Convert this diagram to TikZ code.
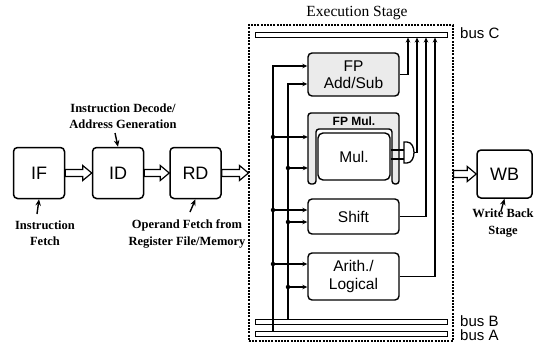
\documentclass[tikz,border=0pt]{standalone}
\usepackage{fontspec}
\setmainfont{Liberation Serif}
\newfontfamily\arialf{Liberation Sans}
\usetikzlibrary{arrows.meta,calc}
\begin{document}
\begin{tikzpicture}[x=1pt,y=-1pt,
  stagebox/.style={draw, line width=1.5pt, rounded corners=4pt, minimum width=51pt, minimum height=51pt, inner sep=0pt, font=\arialf\fontsize{18}{20}\selectfont},
  unitbox/.style={draw, line width=1.4pt, rounded corners=4pt, inner sep=0pt, align=center, font=\arialf\fontsize{15.5}{17.5}\selectfont},
  note/.style={align=center, font=\bfseries\fontsize{12.5}{16.5}\selectfont},
  busbar/.style={draw, line width=1pt, minimum width=192pt, minimum height=5pt, inner sep=0pt},
  buslabel/.style={anchor=west, inner sep=0pt, font=\arialf\fontsize{15}{17}\selectfont},
  ptr/.style={line width=1.4pt, -{Stealth[length=6.5pt,width=5.5pt]}},
  sig/.style={line width=1.3pt, -{Stealth[length=5pt,width=4.5pt]}},
  wire/.style={line width=1.3pt},
  jdot/.style={circle, fill, inner sep=0pt, minimum size=4.5pt},
  hollow/.style={draw, fill=white, line width=1.2pt,
    to path={let \p1=(\tikztostart), \p2=(\tikztotarget) in
      (\x1,\y1+3.5pt) -- (\x2-9pt,\y1+3.5pt) -- (\x2-9pt,\y1+7.5pt) -- (\x2,\y1)
      -- (\x2-9pt,\y1-7.5pt) -- (\x2-9pt,\y1-3.5pt) -- (\x1,\y1-3.5pt) -- cycle}}
]
\useasboundingbox (0,0) rectangle (538,343);

% pipeline stages
\node[stagebox] (IF) at (39,173) {IF};
\node[stagebox] (ID) at (118,173) {ID};
\node[stagebox] (RD) at (195.5,173) {RD};
\node[stagebox, minimum width=55pt, minimum height=48pt] (WB) at (504.5,174) {WB};

% execution stage frame
\node[draw, line width=1.1pt, dash pattern=on 2pt off 1.2pt, minimum width=204pt, minimum height=316pt, inner sep=0pt] (exe) at (351,183) {};
\node[font=\fontsize{15.5}{17}\selectfont] (exet) at (357,13) {Execution Stage};

% hollow arrows
\draw[hollow] (IF.east) to (ID.west);
\draw[hollow] (ID.east) to (RD.west);
\draw[hollow] (RD.east) to (exe.west);
\draw[hollow] (exe.east |- WB.west) to (WB.west);

% annotations
\node[note] (idn) at (123,116) {Instruction Decode/\\Address Generation};
\node[note] (ifn) at (45,233) {Instruction\\Fetch};
\node[note] (rdn) at (187,234) {Operand Fetch from\\Register File/Memory};
\node[note] (wbn) at (503,223) {Write Back\\Stage};
\coordinate (idt) at (115,133);
\coordinate (ift) at (37,214);
\coordinate (rdt) at (190,212);
\coordinate (wbt) at (501,211);
\draw[ptr] (idt) -- (ID.north);
\draw[ptr] (ift) -- (IF.south);
\draw[ptr] (rdt) -- (RD.south);
\draw[ptr] (wbt) -- (WB.south);

% buses
\node[busbar] (busC) at (351,34.5) {};
\node[busbar] (busB) at (351,321.5) {};
\node[busbar] (busA) at (351,333.5) {};
\node[buslabel] (busCl) at (460,33) {bus C};
\node[buslabel] (busBl) at (460,321) {bus B};
\node[buslabel] (busAl) at (460,335) {bus A};

% functional units
\node[unitbox, fill=black!8, minimum width=91pt, minimum height=43pt] (fpadd) at (353.5,74.5) {FP\\Add/Sub};
\node[minimum width=91pt, minimum height=71pt, inner sep=0pt] (fpmul) at (353.5,148.5) {};
\path[draw, line width=1.4pt, fill=black!8, rounded corners=3pt]
  (308,184) -- (308,113) -- (399,113) -- (399,184) -- (392,184) -- (392,129)
  -- (316,129) -- (316,184) -- cycle;
\node[font=\arialf\bfseries\fontsize{12}{13}\selectfont, inner sep=0pt] (fpmult) at (354,121) {FP Mul.};
\node[unitbox, fill=white, rounded corners=5pt, minimum width=72pt, minimum height=47pt] (mul) at (354,156.5) {Mul.};
\node[unitbox, minimum width=91pt, minimum height=35pt] (shift) at (353.5,216.5) {Shift};
\node[unitbox, minimum width=91pt, minimum height=47pt] (arith) at (353.5,276.5) {Arith./\\Logical};

% selector gate after multiplier
\coordinate (gi1) at (404,150);
\coordinate (gi2) at (404,159);
\coordinate (go) at (414,152.5);
\draw[wire, fill=white] (404,142) -- (407,142) .. controls (412,142) and (414,148) .. (go)
  .. controls (414,157) and (412,163) .. (407,163) -- (404,163) -- cycle;
\draw[wire] (mul.east |- gi1) -- (gi1);
\draw[wire] (mul.east |- gi2) -- (gi2);

% bus A / bus B feeds
\coordinate (aT) at (273,66);
\coordinate (bT) at (288,84);
\draw[sig] (busA.north -| aT) -- (aT) -- (fpadd.west |- aT);
\draw[sig] (busB.north -| bT) -- (bT) -- (fpadd.west |- bT);
\coordinate (a2) at (273,137);
\coordinate (b2) at (288,168);
\coordinate (a3) at (273,210);
\coordinate (b3) at (288,222);
\coordinate (a4) at (273,264);
\coordinate (b4) at (288,287);
\draw[sig] (a2) -- (fpmul.west |- a2);
\draw[sig] (b2) -- (fpmul.west |- b2);
\draw[sig] (a3) -- (shift.west |- a3);
\draw[sig] (b3) -- (shift.west |- b3);
\draw[sig] (a4) -- (arith.west |- a4);
\draw[sig] (b4) -- (arith.west |- b4);
\foreach \p in {a2,b2,a3,b3,a4,b4} \node[jdot] at (\p) {};

% results to bus C
\coordinate (c1) at (408,0);
\coordinate (c2) at (417,0);
\coordinate (c3) at (426,0);
\coordinate (c4) at (435,0);
\draw[sig] (fpadd.east) -| (c1 |- busC.south);
\draw[sig] (go) -| (c2 |- busC.south);
\draw[sig] (shift.east) -| (c3 |- busC.south);
\draw[sig] (arith.east) -| (c4 |- busC.south);
\end{tikzpicture}
\end{document}
